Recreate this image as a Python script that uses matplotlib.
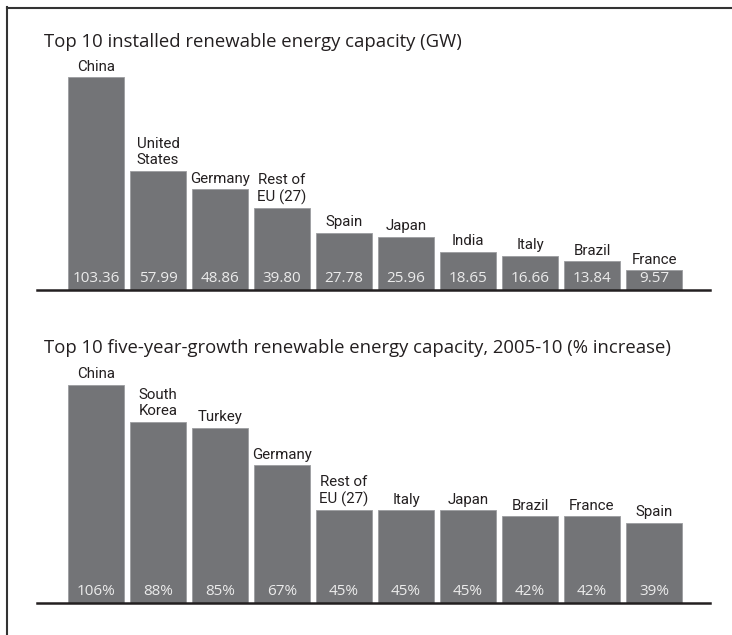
import numpy as np
import matplotlib.pyplot as plt
from matplotlib.lines import Line2D

W, H, DPI = 732, 635, 100

# installed capacity, GW
capacity_countries = ["China", "United\nStates", "Germany", "Rest of\nEU (27)", "Spain",
                      "Japan", "India", "Italy", "Brazil", "France"]
capacity_gw = [103.36, 57.99, 48.86, 39.80, 27.78, 25.96, 18.65, 16.66, 13.84, 9.57]

# five-year growth 2005-10, % increase
growth_countries = ["China", "South\nKorea", "Turkey", "Germany", "Rest of\nEU (27)",
                    "Italy", "Japan", "Brazil", "France", "Spain"]
growth_pct = [106, 88, 85, 67, 45, 45, 45, 42, 42, 39]

BAR = "#737477"
INSIDE = "#ebebeb"
INK = "#231f20"
TITLE_FONT = ["Open Sans", "DejaVu Sans"]
LABEL_FONT = ["Roboto", "DejaVu Sans"]

fig = plt.figure(figsize=(W / DPI, H / DPI), dpi=DPI)

PX_PER_UNIT = 2.06
STEP = 62.0        # px between bar centres
FIRST = 96.0       # px, centre of first bar
LEFT, RIGHT = 37, 710


def panel(baseline, title, title_y, names, values, fmt):
    height = 250
    ax = fig.add_axes([LEFT / W, 1 - baseline / H, (RIGHT - LEFT) / W, height / H])
    x = np.arange(len(values))
    ax.bar(x, values, width=56 / STEP, color=BAR, edgecolor="#9c9da0", linewidth=0.6)
    ax.set_xlim((LEFT - FIRST) / STEP, (RIGHT - FIRST) / STEP)
    ax.set_ylim(0, height / PX_PER_UNIT)
    for i, (n, v) in enumerate(zip(names, values)):
        ax.annotate(n, xy=(i, v), xytext=(0, 2.5), textcoords="offset points",
                    ha="center", va="bottom", fontsize=10.8, color=INK,
                    family=LABEL_FONT, linespacing=1.2)
        ax.annotate(fmt(v), xy=(i, 0), xytext=(0, 3), textcoords="offset points",
                    ha="center", va="bottom", fontsize=11, color=INSIDE,
                    family=TITLE_FONT)
    for s in ["top", "left", "right"]:
        ax.spines[s].set_visible(False)
    ax.spines["bottom"].set_linewidth(1.8)
    ax.spines["bottom"].set_color(INK)
    ax.set_xticks([])
    ax.set_yticks([])
    ax.patch.set_alpha(0)
    fig.text(44 / W, 1 - title_y / H, title, ha="left", va="center",
             fontsize=13.3, color=INK, family=TITLE_FONT)
    return ax


panel(290, "Top 10 installed renewable energy capacity (GW)", 42,
      capacity_countries, capacity_gw, lambda v: f"{v:.2f}")
panel(603, "Top 10 five-year-growth renewable energy capacity, 2005-10 (% increase)", 348,
      growth_countries, growth_pct, lambda v: f"{v:d}%")

# frame lines along the left and top edge
fig.add_artist(Line2D([7 / W, 7 / W], [0, 1 - 7 / H], transform=fig.transFigure,
                      color="#333333", linewidth=1.5))
fig.add_artist(Line2D([7 / W, 1], [1 - 8 / H, 1 - 8 / H], transform=fig.transFigure,
                      color="#333333", linewidth=1.5))

fig.savefig("out.png", dpi=DPI)
